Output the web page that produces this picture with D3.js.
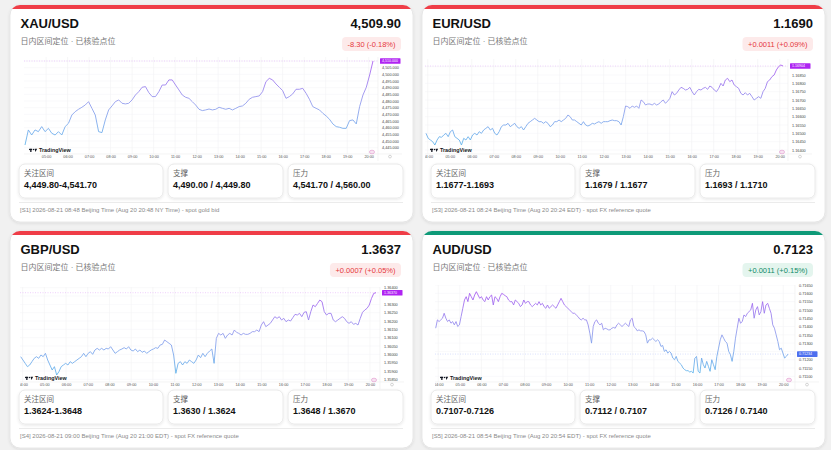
<!DOCTYPE html>
<html>
<head>
<meta charset="utf-8">
<script src="https://cdn.jsdelivr.net/npm/d3@7"></script>
<style>
  body { margin: 0; background: #f1f1f1; }
  svg { display: block; font-family: "Liberation Sans", "Noto Sans CJK SC", sans-serif; }
</style>
</head>
<body>
<div id="viz-container"></div>
<script>
// ---- data ----
const pairNames = ["XAU/USD", "EUR/USD", "GBP/USD", "AUD/USD"];
const lastPrices = ["4,509.90", "1.1690", "1.3637", "0.7123"];
const changeLabels = ["-8.30 (-0.18%)", "+0.0011 (+0.09%)", "+0.0007 (+0.05%)", "+0.0011 (+0.15%)"];
const changeUp = [false, false, false, true]; // last card uses the green badge
const subtitle = "日内区间定位 · 已核验点位";
const zoneLabels = ["关注区间", "支撑", "压力"];
const zoneValues = [
  ["4,449.80-4,541.70", "4,490.00 / 4,449.80", "4,541.70 / 4,560.00"],
  ["1.1677-1.1693", "1.1679 / 1.1677", "1.1693 / 1.1710"],
  ["1.3624-1.3648", "1.3630 / 1.3624", "1.3648 / 1.3670"],
  ["0.7107-0.7126", "0.7112 / 0.7107", "0.7126 / 0.7140"]
];
const footnotes = [
  "[S1] 2026-08-21 08:48 Beijing Time (Aug 20 20:48 NY Time) - spot gold bid",
  "[S3] 2026-08-21 08:24 Beijing Time (Aug 20 20:24 EDT) - spot FX reference quote",
  "[S4] 2026-08-21 09:00 Beijing Time (Aug 20 21:00 EDT) - spot FX reference quote",
  "[S5] 2026-08-21 08:54 Beijing Time (Aug 20 20:54 EDT) - spot FX reference quote"
];
const xauTimeLabels = ["05:00","06:00","07:00","08:00","09:00","10:00","11:00","12:00",
  "13:00","14:00","15:00","16:00","17:00","18:00","19:00","20:00"];
const fxTimeLabels = ["04:00","05:00","06:00","07:00","08:00","09:00","10:00","11:00","12:00",
  "13:00","14:00","15:00","16:00","17:00","18:00","19:00","20:00"];

const xauValues = [
  4447.0, 4458.3, 4454.5, 4458.3, 4457.0, 4460.8, 4457.0, 4459.5, 4455.8, 4454.5,
  4457.0, 4454.5, 4460.8, 4463.3, 4469.5, 4472.0, 4473.8, 4475.3, 4477.0, 4479.5,
  4474.5, 4469.5, 4457.0, 4456.3, 4465.8, 4473.3, 4476.3, 4479.5, 4480.8, 4478.3,
  4477.8, 4478.3, 4480.8, 4484.5, 4487.0, 4490.3, 4490.8, 4486.3, 4483.3, 4483.3,
  4487.0, 4492.0, 4492.0, 4495.8, 4495.8, 4492.0, 4488.3, 4484.5, 4482.8, 4482.0,
  4479.5, 4477.0, 4473.8, 4472.8, 4473.3, 4474.0, 4473.3, 4473.8, 4475.3, 4474.5,
  4473.8, 4474.5, 4473.3, 4474.5, 4475.8, 4476.3, 4478.3, 4481.3, 4482.8, 4483.3,
  4483.8, 4487.0, 4494.5, 4497.0, 4495.8, 4492.8, 4490.3, 4487.8, 4482.0, 4483.3,
  4485.3, 4488.8, 4488.8, 4489.5, 4485.8, 4481.3, 4475.8, 4474.5, 4473.3, 4470.8,
  4468.8, 4466.3, 4462.8, 4460.8, 4460.3, 4459.5, 4459.5, 4465.3, 4465.8, 4462.8,
  4475.8, 4484.5, 4490.3, 4499.5, 4510.0
];
const eurValues = [
  1.1650, 1.1647, 1.1646, 1.1645, 1.1643, 1.1646, 1.1648, 1.16476, 1.1649, 1.1650,
  1.1648, 1.1651, 1.1652, 1.1648, 1.1647, 1.1646, 1.1643, 1.1647, 1.1646, 1.1648,
  1.1646, 1.1649, 1.1650, 1.1649, 1.1651, 1.1650, 1.1652, 1.1653, 1.1654, 1.1652,
  1.1653, 1.1650, 1.1649, 1.1651, 1.1654, 1.1655, 1.1655, 1.1656, 1.1654, 1.1655,
  1.1656, 1.1654, 1.1653, 1.1654, 1.1652, 1.1654, 1.1656, 1.1657, 1.1658, 1.1659,
  1.1658, 1.1657, 1.1657, 1.1656, 1.1657, 1.1656, 1.1654, 1.1655, 1.1657, 1.1657,
  1.1658, 1.1657, 1.1658, 1.1659, 1.1661, 1.1660, 1.1658, 1.1658, 1.1657, 1.1656,
  1.1655, 1.1657, 1.1655, 1.16544, 1.1655, 1.1656, 1.16556, 1.16564, 1.1657, 1.1656,
  1.1657, 1.1657, 1.1657, 1.16576, 1.1658, 1.16576, 1.16576, 1.1657, 1.1655, 1.1660,
  1.16664, 1.1666, 1.1665, 1.16664, 1.16656, 1.16664, 1.1665, 1.1670, 1.1669, 1.1667,
  1.16676, 1.16676, 1.1667, 1.1668, 1.1667, 1.16676, 1.1669, 1.1670, 1.1668, 1.16694,
  1.1671, 1.1675, 1.1673, 1.1674, 1.1676, 1.16776, 1.1677, 1.1676, 1.16764, 1.16776,
  1.1675, 1.1673, 1.1675, 1.16764, 1.1676, 1.1677, 1.16776, 1.16764, 1.16784, 1.16776,
  1.1676, 1.1675, 1.1677, 1.1680, 1.16784, 1.1682, 1.1683, 1.1681, 1.1682, 1.1679,
  1.1678, 1.1677, 1.1674, 1.1673, 1.16744, 1.1673, 1.1674, 1.1672, 1.1670, 1.1671,
  1.1672, 1.1671, 1.1675, 1.1677, 1.1681, 1.1682, 1.1684, 1.1685, 1.1688, 1.1690,
  1.1691, 1.16904
];
const gbpValues = [
  1.35986, 1.35966, 1.35946, 1.35926, 1.35936, 1.35956, 1.35976, 1.35986, 1.35976, 1.35996,
  1.35986, 1.36006, 1.35966, 1.35936, 1.35906, 1.35926, 1.35876, 1.35896, 1.35926, 1.35936,
  1.35946, 1.35936, 1.35956, 1.35946, 1.35956, 1.35966, 1.35976, 1.35986, 1.36006, 1.35986,
  1.36006, 1.36016, 1.36000, 1.36026, 1.36036, 1.36026, 1.36036, 1.36026, 1.36036, 1.36032,
  1.36046, 1.36026, 1.36006, 1.36016, 1.36026, 1.36032, 1.36040, 1.36032, 1.36046, 1.36026,
  1.36020, 1.36032, 1.36016, 1.36026, 1.36012, 1.36020, 1.36006, 1.36016, 1.36026, 1.36032,
  1.36040, 1.36036, 1.36056, 1.36060, 1.36086, 1.36076, 1.36066, 1.36056, 1.35996, 1.35886,
  1.35946, 1.35956, 1.35936, 1.35956, 1.35946, 1.35966, 1.35956, 1.35946, 1.35966, 1.35996,
  1.35980, 1.36006, 1.35986, 1.36006, 1.36020, 1.36032, 1.35946, 1.36096, 1.36126, 1.36116,
  1.36126, 1.36096, 1.36116, 1.36126, 1.36116, 1.36146, 1.36132, 1.36126, 1.36116, 1.36126,
  1.36120, 1.36120, 1.36126, 1.36136, 1.36136, 1.36146, 1.36136, 1.36176, 1.36196, 1.36166,
  1.36176, 1.36186, 1.36206, 1.36226, 1.36216, 1.36226, 1.36206, 1.36216, 1.36196, 1.36206,
  1.36200, 1.36220, 1.36240, 1.36236, 1.36246, 1.36226, 1.36252, 1.36256, 1.36206, 1.36256,
  1.36296, 1.36286, 1.36306, 1.36326, 1.36316, 1.36256, 1.36236, 1.36246, 1.36246, 1.36206,
  1.36196, 1.36206, 1.36216, 1.36226, 1.36216, 1.36196, 1.36186, 1.36196, 1.36180, 1.36186,
  1.36176, 1.36216, 1.36252, 1.36266, 1.36276, 1.36296, 1.36336, 1.36366, 1.36370
];
const audValues = [
  0.7139, 0.7144, 0.7143, 0.7144, 0.7145, 0.7148, 0.7145, 0.7143, 0.7144, 0.7142,
  0.7143, 0.7141, 0.7143, 0.7140, 0.7141, 0.7146, 0.7151, 0.7156, 0.7158, 0.7155,
  0.7160, 0.7158, 0.7156, 0.7159, 0.7161, 0.7159, 0.7157, 0.7158, 0.7156, 0.7155,
  0.7158, 0.7156, 0.7158, 0.7159, 0.7153, 0.7158, 0.7157, 0.7155, 0.7158, 0.7160,
  0.71594, 0.71586, 0.7158, 0.7156, 0.7155, 0.7155, 0.7153, 0.7156, 0.7155, 0.7154,
  0.7152, 0.7153, 0.7156, 0.7154, 0.7155, 0.7155, 0.7153, 0.7152, 0.7153, 0.7154,
  0.7153, 0.7155, 0.7153, 0.7154, 0.7152, 0.7151, 0.7153, 0.7151, 0.7152, 0.7153,
  0.7152, 0.7151, 0.7153, 0.7155, 0.7157, 0.7155, 0.7153, 0.7152, 0.7151, 0.7150,
  0.7149, 0.7148, 0.7148, 0.7147, 0.7146, 0.71446, 0.7144, 0.7145, 0.7144, 0.7144,
  0.7141, 0.7136, 0.7130, 0.7140, 0.7143, 0.7144, 0.7142, 0.7141, 0.7142, 0.7138,
  0.7139, 0.71386, 0.7138, 0.7138, 0.7139, 0.71394, 0.7139, 0.7141, 0.7142, 0.7141,
  0.7140, 0.7141, 0.7142, 0.7141, 0.7140, 0.7144, 0.7145, 0.7140, 0.7139, 0.71374,
  0.7138, 0.71374, 0.71374, 0.7137, 0.7135, 0.7130, 0.7132, 0.7132, 0.7133, 0.7132,
  0.7131, 0.7132, 0.7131, 0.7128, 0.71286, 0.7125, 0.7126, 0.7124, 0.7125, 0.7124,
  0.7121, 0.7120, 0.7122, 0.7119, 0.7118, 0.7117, 0.7115, 0.7114, 0.71134, 0.71134,
  0.71126, 0.7113, 0.7112, 0.7121, 0.7122, 0.7113, 0.7112, 0.7121, 0.7117, 0.7115,
  0.7119, 0.7116, 0.7113, 0.7120, 0.7117, 0.7114, 0.7122, 0.7127, 0.7132, 0.7135,
  0.7133, 0.7131, 0.7130, 0.7125, 0.7123, 0.7119, 0.7125, 0.7133, 0.7139, 0.7145,
  0.7142, 0.7143, 0.7147, 0.7146, 0.7148, 0.7149, 0.7150, 0.7154, 0.7145, 0.7150,
  0.7152, 0.7147, 0.7149, 0.7155, 0.7148, 0.7153, 0.7154, 0.7151, 0.7148, 0.7141,
  0.7139, 0.7135, 0.7131, 0.7126, 0.7127, 0.7124, 0.7121, 0.7122, 0.71234
];

const seriesValues = [xauValues, eurValues, gbpValues, audValues];
const seriesTimeLabels = [xauTimeLabels, fxTimeLabels, fxTimeLabels, fxTimeLabels];

// ---- layout ----
const W = 403, H = 217;
const cardSpots = [{x: 10, y: 5}, {x: 422, y: 5}, {x: 10, y: 231}, {x: 422, y: 231}];
const barColors = ["#ef3d47", "#ef3d47", "#ef3d47", "#0e9a78"];
// chart frame inside each card (TradingView snapshot is cropped a little differently each time)
const frames = [
  {left: 14, lineL: 15,   lineR: 363, right: 368, top: 52, bottom: 149, hi: 56,   lo: 140, t0: 4.02, t1: 20.2,  fmt: ",.3f"},
  {left: 3,  lineL: 4,    lineR: 361, right: 366, top: 54, bottom: 149, hi: 60,   lo: 140, t0: 3.92, t1: 20.15, fmt: ".5f"},
  {left: 10, lineL: 10.7, lineR: 366, right: 370, top: 56, bottom: 151, hi: 61.7, lo: 144, t0: 3.91, t1: 20.28, fmt: ".5f"},
  {left: 13, lineL: 13.7, lineR: 366, right: 373, top: 54, bottom: 151, hi: 60.7, lo: 142, t0: 3.88, t1: 20.22, fmt: ".5f"}
];
const zoneBoxes = [{x: 9, w: 144}, {x: 158, w: 115}, {x: 278, w: 115}];

const lowColor = "#5cb2ea", midColor = "#8e98ec", highColor = "#a656f0";
const boxLow = "#2f86ee", boxHigh = "#b024f2";

let viz = d3.select("#viz-container")
  .append("svg")
    .attr("width", 831)
    .attr("height", 450);

let defs = viz.append("defs");
let shadow = defs.append("filter").attr("id", "shadow")
  .attr("x", "-5%").attr("y", "-5%").attr("width", "110%").attr("height", "115%");
shadow.append("feDropShadow")
  .attr("dx", 0).attr("dy", 1).attr("stdDeviation", 1.5)
  .attr("flood-color", "#000").attr("flood-opacity", 0.10);

function drawCard(spot, i) {
  let g = viz.append("g").attr("transform", "translate(" + spot.x + "," + spot.y + ")");

  defs.append("clipPath").attr("id", "cardclip" + i)
    .append("rect").attr("width", W).attr("height", H).attr("rx", 10);

  g.append("rect")
    .attr("width", W).attr("height", H).attr("rx", 10)
    .attr("fill", "#fff").attr("stroke", "#e3e3e3").attr("stroke-width", 0.8)
    .attr("filter", "url(#shadow)");
  g.append("rect")
    .attr("clip-path", "url(#cardclip" + i + ")")
    .attr("width", W).attr("height", 4)
    .attr("fill", barColors[i]);

  // header
  g.append("text").attr("x", 10.5).attr("y", 23)
    .attr("font-size", 13).attr("font-weight", 700).attr("fill", "#111")
    .text(pairNames[i]);
  g.append("text").attr("x", 391).attr("y", 22.5).attr("text-anchor", "end")
    .attr("font-size", 13).attr("font-weight", 700).attr("fill", "#111")
    .text(lastPrices[i]);
  g.append("text").attr("x", 10.5).attr("y", 39)
    .attr("font-size", 8).attr("fill", "#777")
    .text(subtitle);

  let badge = g.append("g");
  let badgeText = badge.append("text")
    .attr("y", 42.3).attr("text-anchor", "end").attr("x", 385.5)
    .attr("font-size", 7.5)
    .attr("fill", changeUp[i] ? "#0f8a66" : "#e5383b")
    .text(changeLabels[i]);
  let tw = badgeText.node().getComputedTextLength();
  badge.insert("rect", "text")
    .attr("x", 385.5 - tw - 5.5).attr("y", 32)
    .attr("width", tw + 11).attr("height", 14).attr("rx", 4)
    .attr("fill", changeUp[i] ? "#e4f5ee" : "#fdeaea");

  drawChart(g, i);

  // level boxes
  zoneBoxes.forEach(function(b, k) {
    g.append("rect")
      .attr("x", b.x).attr("y", 159).attr("width", b.w).attr("height", 34).attr("rx", 6)
      .attr("fill", "#fff").attr("stroke", "#e4e4e4").attr("stroke-width", 0.8)
      .attr("filter", "url(#shadow)");
    g.append("text").attr("x", b.x + 5).attr("y", 171)
      .attr("font-size", 7.5).attr("fill", "#666")
      .text(zoneLabels[k]);
    g.append("text").attr("x", b.x + 5).attr("y", 183.3)
      .attr("font-size", 9).attr("font-weight", 700).attr("fill", "#111")
      .text(zoneValues[i][k]);
  });

  g.append("line")
    .attr("x1", 9).attr("x2", 393).attr("y1", 197.5).attr("y2", 197.5)
    .attr("stroke", "#ebebeb").attr("stroke-width", 1.2);
  g.append("text").attr("x", 10).attr("y", 207.2)
    .attr("font-size", 6).attr("fill", "#8a8a8a")
    .text(footnotes[i]);
}

function drawChart(g, i) {
  let f = frames[i];
  let values = seriesValues[i];
  let labels = seriesTimeLabels[i];
  let hours = labels.map(function(s) { return parseInt(s, 10); });
  let n = values.length;

  let x = d3.scaleLinear().domain([f.t0, f.t1]).range([f.lineL, f.lineR]);
  let y = d3.scaleLinear().domain(d3.extent(values)).range([f.lo, f.hi]);
  let timeOf = function(k) { return f.t0 + k * (f.t1 - f.t0) / (n - 1); };

  let last = values[n - 1];
  let share = (last - y.domain()[0]) / (y.domain()[1] - y.domain()[0]);
  let boxColor = d3.interpolateRgb(boxLow, boxHigh)(share);

  defs.append("clipPath").attr("id", "plotclip" + i)
    .append("rect").attr("x", f.left).attr("y", f.top)
    .attr("width", f.right - f.left).attr("height", f.bottom - f.top + 8);

  let grad = defs.append("linearGradient").attr("id", "linegrad" + i)
    .attr("gradientUnits", "userSpaceOnUse")
    .attr("x1", 0).attr("x2", 0).attr("y1", f.lo).attr("y2", f.hi);
  grad.append("stop").attr("offset", 0).attr("stop-color", lowColor);
  grad.append("stop").attr("offset", 0.5).attr("stop-color", midColor);
  grad.append("stop").attr("offset", 1).attr("stop-color", highColor);

  let plot = g.append("g").attr("clip-path", "url(#plotclip" + i + ")");
  let yTicks = d3.ticks(y.invert(f.bottom), y.invert(f.top), 18);

  // grid
  plot.selectAll(".vgrid").data(hours).enter().append("line")
    .attr("x1", x).attr("x2", x).attr("y1", f.top).attr("y2", f.bottom)
    .attr("stroke", "#f1f1f4").attr("stroke-width", 0.6);
  plot.selectAll(".hgrid").data(yTicks).enter().append("line")
    .attr("x1", f.left).attr("x2", f.right).attr("y1", y).attr("y2", y)
    .attr("stroke", "#f3f3f6").attr("stroke-width", 0.5);

  // last price dotted line
  plot.append("line")
    .attr("x1", f.left).attr("x2", f.right).attr("y1", y(last)).attr("y2", y(last))
    .attr("stroke", boxColor).attr("stroke-opacity", 0.35)
    .attr("stroke-width", 0.6).attr("stroke-dasharray", "1 1.5");

  // price line
  let line = d3.line()
    .x(function(d, k) { return x(timeOf(k)); })
    .y(function(d) { return y(d); });
  plot.append("path").datum(values)
    .attr("d", line)
    .attr("fill", "none")
    .attr("stroke", "url(#linegrad" + i + ")")
    .attr("stroke-width", 0.85)
    .attr("stroke-linejoin", "round");

  // time axis
  let xAxis = d3.axisBottom(x)
    .tickValues(hours)
    .tickFormat(function(h, k) { return labels[k]; })
    .tickSize(0).tickPadding(0);
  plot.append("g")
    .attr("transform", "translate(0," + (f.bottom + 1) + ")")
    .call(xAxis)
    .call(function(a) { a.select(".domain").remove(); })
    .selectAll("text")
      .attr("font-family", "Liberation Sans, sans-serif")
      .attr("font-size", 3.8).attr("fill", "#555");

  // frame lines
  g.append("line")
    .attr("x1", f.right).attr("x2", f.right).attr("y1", f.top).attr("y2", f.bottom + 7)
    .attr("stroke", "#ececec").attr("stroke-width", 0.6);
  g.append("line")
    .attr("x1", f.left).attr("x2", f.right + 24).attr("y1", f.bottom).attr("y2", f.bottom)
    .attr("stroke", "#ececec").attr("stroke-width", 0.6);

  // price axis
  let yAxis = d3.axisRight(y)
    .tickValues(yTicks.filter(function(v) { return Math.abs(y(v) - y(last)) > 3.5; }))
    .tickFormat(d3.format(f.fmt))
    .tickSize(0).tickPadding(0);
  g.append("g")
    .attr("transform", "translate(" + (f.right + 4) + ",0)")
    .call(yAxis)
    .call(function(a) { a.select(".domain").remove(); })
    .selectAll("text")
      .attr("font-family", "Liberation Sans, sans-serif")
      .attr("font-size", 3.8).attr("fill", "#444");

  g.append("rect")
    .attr("x", f.right + 2).attr("y", y(last) - 2.8)
    .attr("width", 20.5).attr("height", 5.6).attr("rx", 0.6)
    .attr("fill", boxColor);
  g.append("text")
    .attr("x", f.right + 4).attr("y", y(last) + 1.3)
    .attr("font-size", 3.6).attr("fill", "#fff")
    .text(d3.format(f.fmt)(last));

  // TradingView watermark
  let tv = g.append("g").attr("transform", "translate(" + (f.left + 5) + "," + (f.bottom - 3) + ")");
  tv.append("rect").attr("x", 0).attr("y", -2.2).attr("width", 3.2).attr("height", 1.3).attr("fill", "#131722");
  tv.append("rect").attr("x", 1.2).attr("y", -2.2).attr("width", 1.3).attr("height", 3.2).attr("fill", "#131722");
  tv.append("circle").attr("cx", 4.6).attr("cy", -1.5).attr("r", 0.7).attr("fill", "#131722");
  tv.append("path").attr("d", "M5.6,-2.2 L8.2,-2.2 L6.4,1 Z").attr("fill", "#131722");
  tv.append("text").attr("x", 10).attr("y", 1)
    .attr("font-size", 5.4).attr("font-weight", 700).attr("fill", "#131722")
    .text("TradingView");

  // small marks at the bottom corner
  g.append("ellipse")
    .attr("cx", f.right - 6).attr("cy", f.bottom - 2).attr("rx", 2.6).attr("ry", 1.8)
    .attr("fill", "#f7e3f1").attr("stroke", "#d46ab8").attr("stroke-width", 0.4);
  g.append("circle")
    .attr("cx", f.right + 12).attr("cy", f.bottom + 2.6).attr("r", 1.4)
    .attr("fill", "none").attr("stroke", "#999").attr("stroke-width", 0.4);
}

cardSpots.forEach(drawCard);
</script>
</body>
</html>
